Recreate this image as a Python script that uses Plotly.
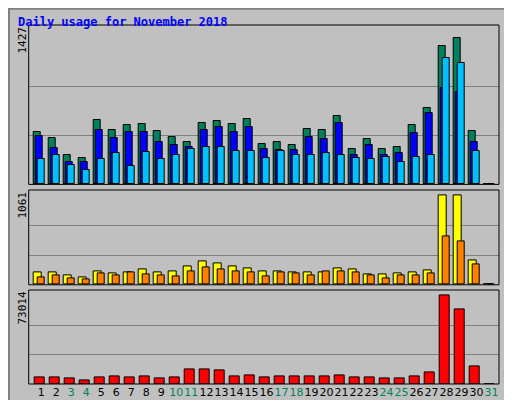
import plotly.graph_objects as go

days = list(range(1, 32))
hits = [515,456,291,262,631,534,582,592,524,466,417,602,621,592,641,398,417,388,544,534,670,349,447,349,369,582,748,1349,1427,524,0]
files = [476,359,214,214,534,456,515,515,417,388,369,534,563,515,563,349,340,340,466,447,602,282,388,291,311,505,699,942,903,417,0]
pages = [252,291,194,136,252,311,175,320,243,291,349,369,369,330,330,262,330,291,291,311,282,262,252,272,223,272,282,1233,1184,330,0]
visits = [153,153,107,84,165,130,142,188,153,165,222,280,257,222,199,165,165,142,153,153,199,188,119,119,130,142,176,1061,1061,291,0]
sites = [84,107,73,61,130,107,142,119,107,96,165,211,188,165,142,96,153,130,107,165,165,142,107,73,107,107,130,578,521,245,0]
kbytes = [5064,5064,4264,2665,5064,5863,5064,6662,4264,5064,12259,12259,11460,6662,7462,5064,5863,5863,5863,5863,7462,5064,5064,4264,4264,6662,9861,73014,61830,14658,0]
weekend = {3,4,10,11,17,18,24,25,31}
tick_labels = [f"<span style='color:#00805c'>{d}</span>" if d in weekend else str(d) for d in days]

BG = "#C0C0C0"
fig = go.Figure()
line = dict(color="black", width=1)

def bar(y, color, off, w, xa, ya):
    fig.add_trace(go.Bar(x=days, y=y, offset=off, width=w, marker=dict(color=color, line=line),
                         xaxis=xa, yaxis=ya, showlegend=False, hoverinfo="skip"))

bar(hits, "#00805c", -0.53, 0.49, "x", "y")
bar(files, "#0000ff", -0.40, 0.49, "x", "y")
bar(pages, "#00c0ff", -0.27, 0.50, "x", "y")
bar(visits, "#ffff00", -0.53, 0.55, "x2", "y2")
bar(sites, "#ff8000", -0.27, 0.50, "x2", "y2")
bar(kbytes, "#ff0000", -0.47, 0.70, "x3", "y3")

xd = [20.7/512, 491/512]
font = dict(family="DejaVu Sans Mono, monospace", size=11, color="black")
panels = [("x", "y", [0.559, 0.9375], 1427), ("x2", "y2", [0.308, 0.539], 1061), ("x3", "y3", [0.06, 0.289], 73014)]
lay = dict(width=512, height=400, margin=dict(l=0, r=0, t=0, b=0, autoexpand=False), paper_bgcolor=BG, plot_bgcolor=BG,
           barmode="overlay", font=font, bargap=0)
for i, (xa, ya, dom, mx) in enumerate(panels):
    xk = "xaxis" if i == 0 else f"xaxis{i+1}"
    yk = "yaxis" if i == 0 else f"yaxis{i+1}"
    lay[xk] = dict(domain=xd, range=[0.16, 31.5], anchor=ya, showgrid=False, zeroline=False,
                   tickmode="array", tickvals=days, ticktext=tick_labels if i == 2 else [""]*31,
                   ticks="", showticklabels=(i == 2), tickangle=0, automargin=False,
                   tickfont=dict(family="DejaVu Sans", size=11), fixedrange=True)
    lay[yk] = dict(domain=dom, range=[0, mx*1.035], anchor=xa, showgrid=True, gridcolor="#808080",
                   tickmode="array", tickvals=[mx/3, 2*mx/3], showticklabels=False, zeroline=False, automargin=False)
fig.update_layout(**lay)

shapes = []
for (_, _, dom, _) in panels:
    shapes.append(dict(type="rect", xref="paper", yref="paper", x0=xd[0], x1=xd[1], y0=dom[0],
                       y1=dom[1]+0.02 if dom[1] > 0.9 else dom[1]+0.006, line=dict(color="black", width=1)))
shapes.append(dict(type="rect", xref="paper", yref="paper", x0=0.002, x1=0.998, y0=0.002, y1=0.998,
                   line=dict(color="#808080", width=2)))
fig.update_layout(shapes=shapes)

ann = [
    dict(x=8/512, y=1-14/400, text="<b>Daily usage for November 2018</b>", font=dict(family="DejaVu Sans Mono", size=12, color="#0000ff"),
         xanchor="left", yanchor="middle"),
    dict(x=14/512, y=0.9375+0.02, text="1427", textangle=-90, xanchor="center", yanchor="top"),
    dict(x=14/512, y=0.545, text="1061", textangle=-90, xanchor="center", yanchor="top"),
    dict(x=14/512, y=0.295, text="73014", textangle=-90, xanchor="center", yanchor="top"),
    dict(x=500/512, y=0.955, text="<span style='color:#00c0ff'>Pages</span> / <span style='color:#0000ff'>Files</span> / <span style='color:#00805c'>Hits</span>",
         textangle=-90, xanchor="center", yanchor="top"),
    dict(x=500/512, y=0.545, text="<span style='color:#ff8000'>Sites</span> / <span style='color:#ffff00'>Visits</span>",
         textangle=-90, xanchor="center", yanchor="top"),
    dict(x=500/512, y=0.06, text="<span style='color:#ff0000'>KBytes</span>", textangle=-90, xanchor="center", yanchor="bottom"),
]
for a in ann:
    a.setdefault("xref", "paper"); a.setdefault("yref", "paper"); a.setdefault("showarrow", False)
fig.update_layout(annotations=ann)
fig.write_html("out.html")
